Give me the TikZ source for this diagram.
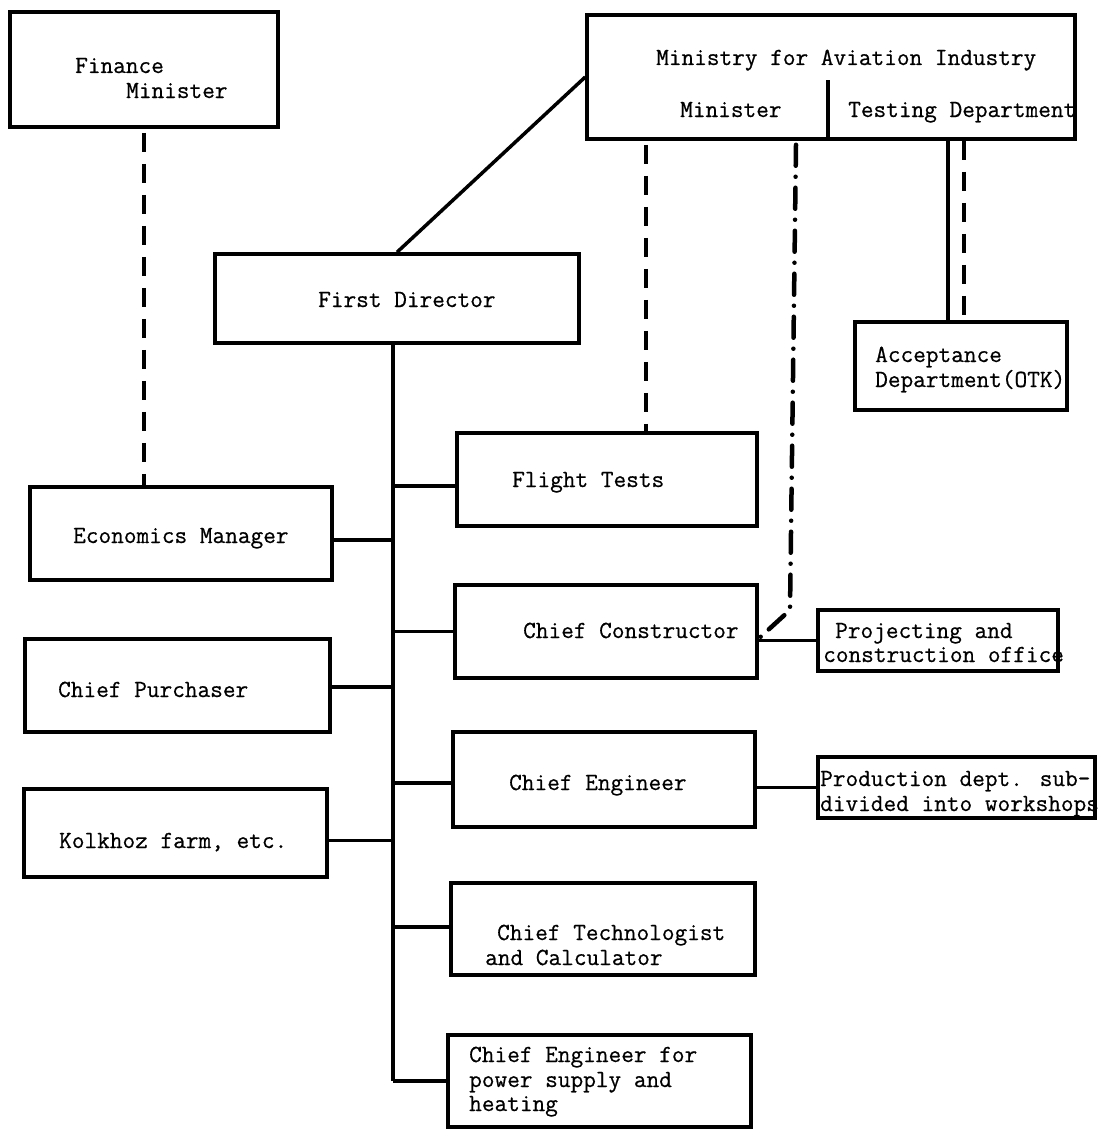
\documentclass[tikz,border=0pt]{standalone}
\usepackage{fontspec}
\newfontfamily\tyfam[FakeBold=0.6]{Latin Modern Mono}
\newcommand\tyfont{\fontsize{24.6pt}{26pt}\selectfont\tyfam}
\newcommand\mybox[5]{\node[box, minimum width={(#4-#2)*1pt}, minimum height={(#5-#3)*1pt}] (#1) at ({(#2+#4)/2},{(#3+#5)/2}) {};}
\tikzset{
  box/.style={draw, line width=3.5pt, rectangle, inner sep=0pt},
  txt/.style={anchor=base west, inner sep=0pt, font=\tyfont},
  conn/.style={line width=3.5pt},
  dashln/.style={line width=3.5pt, dash pattern=on 19pt off 12pt},
  dashdotln/.style={line width=4.5pt, dash pattern=on 21pt off 11pt on 0pt off 11pt, line cap=round},
}
\begin{document}
\begin{tikzpicture}[x=1pt,y=-1pt]
\useasboundingbox (0,0) rectangle (1104,1132);
\fill[white] (0,0) rectangle (1104,1132);

% boxes
\mybox{fin}{10}{12}{278}{127}
\mybox{mai}{587}{15}{1075}{139}
\mybox{fd}{215}{254}{579}{343}
\mybox{otk}{855}{322}{1067}{410}
\mybox{ft}{457}{433}{757}{526}
\mybox{em}{30}{487}{332}{580}
\mybox{cc}{455}{585}{757}{678}
\mybox{po}{818}{610}{1058}{671}
\mybox{cp}{25}{639}{330}{732}
\mybox{ce}{453}{732}{755}{827}
\mybox{pd}{818}{757}{1095}{818}
\mybox{kf}{24}{789}{327}{877}
\mybox{ct}{451}{883}{755}{975}
\mybox{cep}{448}{1035}{751}{1127}

% texts
\node[txt] (tfin1) at (75,73) {Finance};
\node[txt] (tfin2) at (126,98) {Minister};
\node[txt] (tmai) at (656,65) {Ministry for Aviation Industry};
\node[txt] (tmin) at (680,117) {Minister};
\node[txt] (ttest) at (848,117) {Testing Department};
\node[txt] (tfd) at (318,307) {First Director};
\node[txt] (totk1) at (875,362) {Acceptance};
\node[txt] (totk2) at (875,387) {Department(OTK)};
\node[txt] (tft) at (512,487) {Flight Tests};
\node[txt] (tem) at (73,543) {Economics Manager};
\node[txt] (tcc) at (523,638) {Chief Constructor};
\node[txt] (tpo1) at (835,638) {Projecting and};
\node[txt] (tpo2) at (823,662) {construction office};
\node[txt] (tcp) at (58,697) {Chief Purchaser};
\node[txt] (tce) at (509,790) {Chief Engineer};
\node[txt] (tpd1) at (820,786) {Production dept. sub-};
\node[txt] (tpd2) at (820,811) {divided into workshops};
\node[txt] (tkf) at (59,848) {Kolkhoz farm, etc.};
\node[txt] (tct1) at (497,940) {Chief Technologist};
\node[txt] (tct2) at (485,965) {and Calculator};
\node[txt] (tcep1) at (469,1062) {Chief Engineer for};
\node[txt] (tcep2) at (469,1087) {power supply and};
\node[txt] (tcep3) at (469,1111) {heating};

% ministry divider
\coordinate (divtop) at (828,80);
\draw[conn] (divtop) -- (divtop |- mai.south);

% ministry to first director
\draw[conn] (mai.west) -- (fd.north);

% trunk
\coordinate (tr) at (393,343);
\draw[conn] (tr) -- (tr |- cep.west);

% branches right
\draw[conn] ([yshift=-6.5pt]ft.west) -- ([yshift=-6.5pt]ft.west -| tr);
\draw[conn] (cc.west) -- (cc.west -| tr);
\draw[conn] ([yshift=-3.5pt]ce.west) -- ([yshift=-3.5pt]ce.west -| tr);
\draw[conn] ([yshift=2pt]ct.west) -- ([yshift=2pt]ct.west -| tr);
\draw[conn] (cep.west) -- (cep.west -| tr);
% branches left
\draw[conn] ([yshift=-6.5pt]em.east) -- ([yshift=-6.5pt]em.east -| tr);
\draw[conn] ([yshift=-1.5pt]cp.east) -- ([yshift=-1.5pt]cp.east -| tr);
\draw[conn] ([yshift=-7.5pt]kf.east) -- ([yshift=-7.5pt]kf.east -| tr);

% sub offices
\draw[conn] (po.west) -- (po.west -| cc.east);
\draw[conn] (pd.west) -- (pd.west -| ce.east);

% finance dashed
\draw[dashln] ([yshift=-4pt]fin.south) -- (fin.south |- em.north);
% minister dashed to flight tests
\draw[dashln] ([xshift=-185pt,yshift=-4pt]mai.south) -- ([xshift=-185pt]mai.south |- ft.north);
% dash-dot to chief constructor
\coordinate (ddbend) at (790,610);
\draw[dashdotln] ([xshift=-35pt,yshift=-4pt]mai.south) -- (ddbend) -- ([yshift=-7pt]cc.east);
% testing department to OTK
\draw[conn] ([xshift=117pt]mai.south) -- ([xshift=117pt]mai.south |- otk.north);
\draw[dashln] ([xshift=133pt]mai.south) -- ([xshift=133pt]mai.south |- otk.north);
\end{tikzpicture}
\end{document}
